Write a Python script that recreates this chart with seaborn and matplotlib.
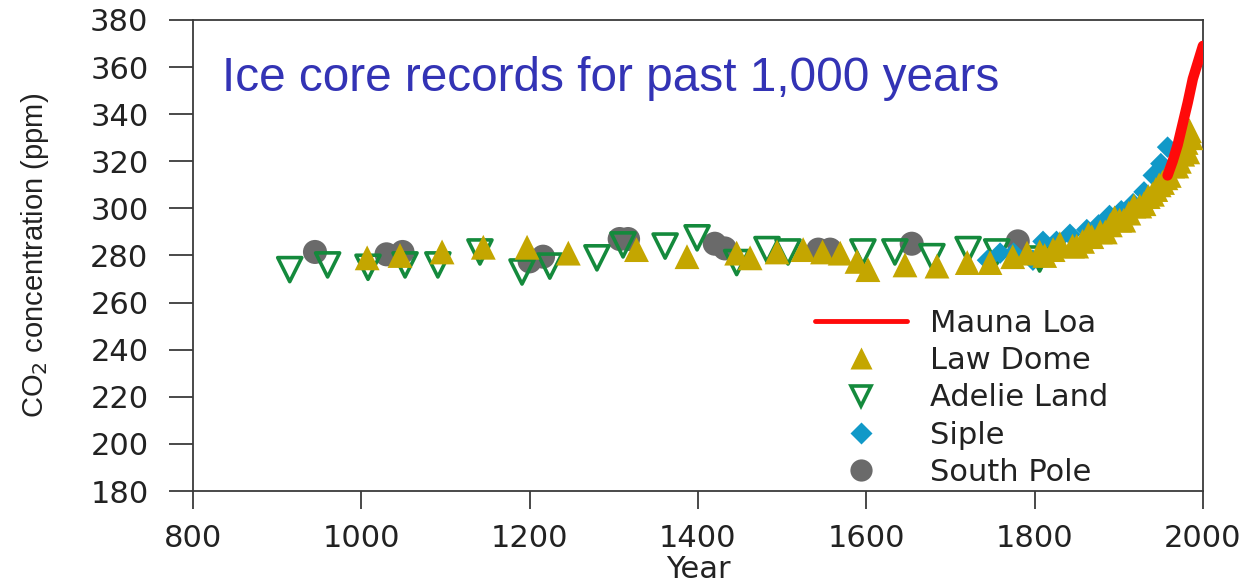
import matplotlib
matplotlib.use("Agg")
import matplotlib.pyplot as plt
import seaborn as sns
import pandas as pd
from matplotlib.lines import Line2D

# ---------------- data ----------------
mauna_loa_year = [1958, 1964, 1970, 1976, 1982, 1988, 1994, 2000]
mauna_loa_ppm = [314, 320, 327, 336, 345, 355, 362, 369]

law_dome_year = [1007, 1046, 1096, 1145, 1197, 1246, 1327, 1387, 1446, 1462,
                 1494, 1525, 1548, 1569, 1589, 1602, 1646, 1684, 1720, 1747,
                 1774, 1791, 1806, 1812, 1822, 1830, 1845, 1850, 1857, 1864,
                 1868, 1878, 1884, 1890, 1895, 1901, 1906, 1912, 1918, 1925,
                 1930, 1935, 1940, 1944, 1948, 1952, 1956, 1960, 1964, 1969,
                 1972, 1976, 1978, 1980, 1982, 1984, 1986]
law_dome_ppm = [279, 280, 281.5, 283.5, 283.5, 281, 282.5, 279.5, 281, 279,
                281.5, 282.5, 281.5, 281, 277.5, 274, 276, 275.5, 277, 277,
                279.5, 281, 281.5, 280, 282.5, 285, 284, 284, 286, 289,
                288, 290, 290, 293, 296, 295, 295, 298, 301, 301,
                302, 305, 306, 308, 310, 311, 313, 314, 318, 318,
                320, 323, 326, 328, 324, 333, 330]

adelie_year = [915, 960, 1008, 1052, 1091, 1141, 1191, 1224, 1280, 1311, 1361,
               1399, 1446, 1482, 1507, 1596, 1634, 1678, 1721, 1755, 1806]
adelie_ppm = [274, 276, 275, 276, 276, 281.5, 273, 275.5, 279, 284.5, 284,
              287.5, 277, 282.5, 281.5, 281.5, 281.5, 279.5, 282.5, 281.5, 278.5]

siple_year = [1744, 1759, 1775, 1798, 1810, 1826, 1842, 1862, 1876, 1889,
              1903, 1917, 1930, 1941, 1950, 1958]
siple_ppm = [278, 281, 281, 278, 286, 286, 289, 291, 293, 297,
             299, 302, 307, 314, 319, 326]

south_pole_year = [945, 1030, 1049, 1200, 1216, 1307, 1317, 1420, 1432,
                   1543, 1557, 1654, 1780]
south_pole_ppm = [281.5, 280.5, 281.5, 277.5, 279.5, 287, 287, 285, 283,
                  282.5, 282.5, 285, 286]

x_ticks = [800, 1000, 1200, 1400, 1600, 1800, 2000]
y_ticks = [180, 200, 220, 240, 260, 280, 300, 320, 340, 360, 380]

series_labels = ["Mauna Loa", "Law Dome", "Adelie Land", "Siple", "South Pole"]
title_text = "Ice core records for past 1,000 years"

# ---------------- styling ----------------
sns.set_theme(style="ticks")
plt.rcParams["font.family"] = ["DejaVu Sans"]

c_red = "#ff0a0a"
c_gold = "#c4a600"
c_green = "#148a3c"
c_blue = "#1199c8"
c_grey = "#6a6a6a"
c_axis = "#3a3a3a"
c_text = "#222222"

fig = plt.figure(figsize=(12.4, 5.86), dpi=100)
ax = fig.add_axes([0.1556, 0.1621, 0.8145, 0.8038])

df_sp = pd.DataFrame({"year": south_pole_year, "ppm": south_pole_ppm})
df_ad = pd.DataFrame({"year": adelie_year, "ppm": adelie_ppm})
df_si = pd.DataFrame({"year": siple_year, "ppm": siple_ppm})
df_ld = pd.DataFrame({"year": law_dome_year, "ppm": law_dome_ppm})
df_ml = pd.DataFrame({"year": mauna_loa_year, "ppm": mauna_loa_ppm})

sns.scatterplot(data=df_sp, x="year", y="ppm", ax=ax, marker="o", s=300,
                color=c_grey, edgecolor="none", zorder=2, legend=False)
sns.scatterplot(data=df_ad, x="year", y="ppm", ax=ax, marker="v", s=300,
                facecolor="none", edgecolor=c_green, linewidth=2.6, zorder=3,
                legend=False)
sns.scatterplot(data=df_si, x="year", y="ppm", ax=ax, marker="D", s=120,
                color=c_blue, edgecolor="none", zorder=4, legend=False)
sns.scatterplot(data=df_ld, x="year", y="ppm", ax=ax, marker="^", s=320,
                color=c_gold, edgecolor="none", zorder=5, legend=False)
sns.lineplot(data=df_ml, x="year", y="ppm", ax=ax, color=c_red, linewidth=7.5,
             zorder=6, legend=False)

ax.set_xlim(800, 2000)
ax.set_ylim(180, 380)
ax.set_xticks(x_ticks)
ax.set_yticks(y_ticks)
ax.set_xticklabels([str(v) for v in x_ticks])
ax.set_yticklabels([str(v) for v in y_ticks])

for sp in ax.spines.values():
    sp.set_color(c_axis)
    sp.set_linewidth(1.3)
ax.tick_params(axis="both", direction="out", width=1.3,
               color=c_axis, labelcolor=c_text, labelsize=22)
ax.tick_params(axis="x", length=13, pad=11)
ax.tick_params(axis="y", length=17, pad=15)

ax.set_xlabel("Year", fontsize=22, color=c_text, labelpad=1.5)
ax.set_ylabel(r"CO$_2$ concentration (ppm)", fontsize=21, color=c_text,
              family=["Liberation Sans", "DejaVu Sans"], labelpad=28)

handles = [
    Line2D([], [], color=c_red, linewidth=3.5),
    Line2D([], [], linestyle="none", marker="^", markersize=16,
           markerfacecolor=c_gold, markeredgecolor="none"),
    Line2D([], [], linestyle="none", marker="v", markersize=14,
           markerfacecolor="none", markeredgecolor=c_green, markeredgewidth=2.6),
    Line2D([], [], linestyle="none", marker="D", markersize=11,
           markerfacecolor=c_blue, markeredgecolor="none"),
    Line2D([], [], linestyle="none", marker="o", markersize=16,
           markerfacecolor=c_grey, markeredgecolor="none"),
]
leg = ax.legend(handles, series_labels, loc="lower right",
                bbox_to_anchor=(0.918, -0.017), frameon=False, fontsize=22,
                handlelength=3.0, handletextpad=0.75, labelspacing=0.27,
                borderaxespad=0.0)
for t in leg.get_texts():
    t.set_color(c_text)

fig.text(222 / 1240, 1 - 91 / 586, title_text, color="#3333b5", fontsize=34.4,
         family=["Liberation Sans", "DejaVu Sans"], ha="left", va="baseline")

fig.savefig("out.png", dpi=100, facecolor="white")
